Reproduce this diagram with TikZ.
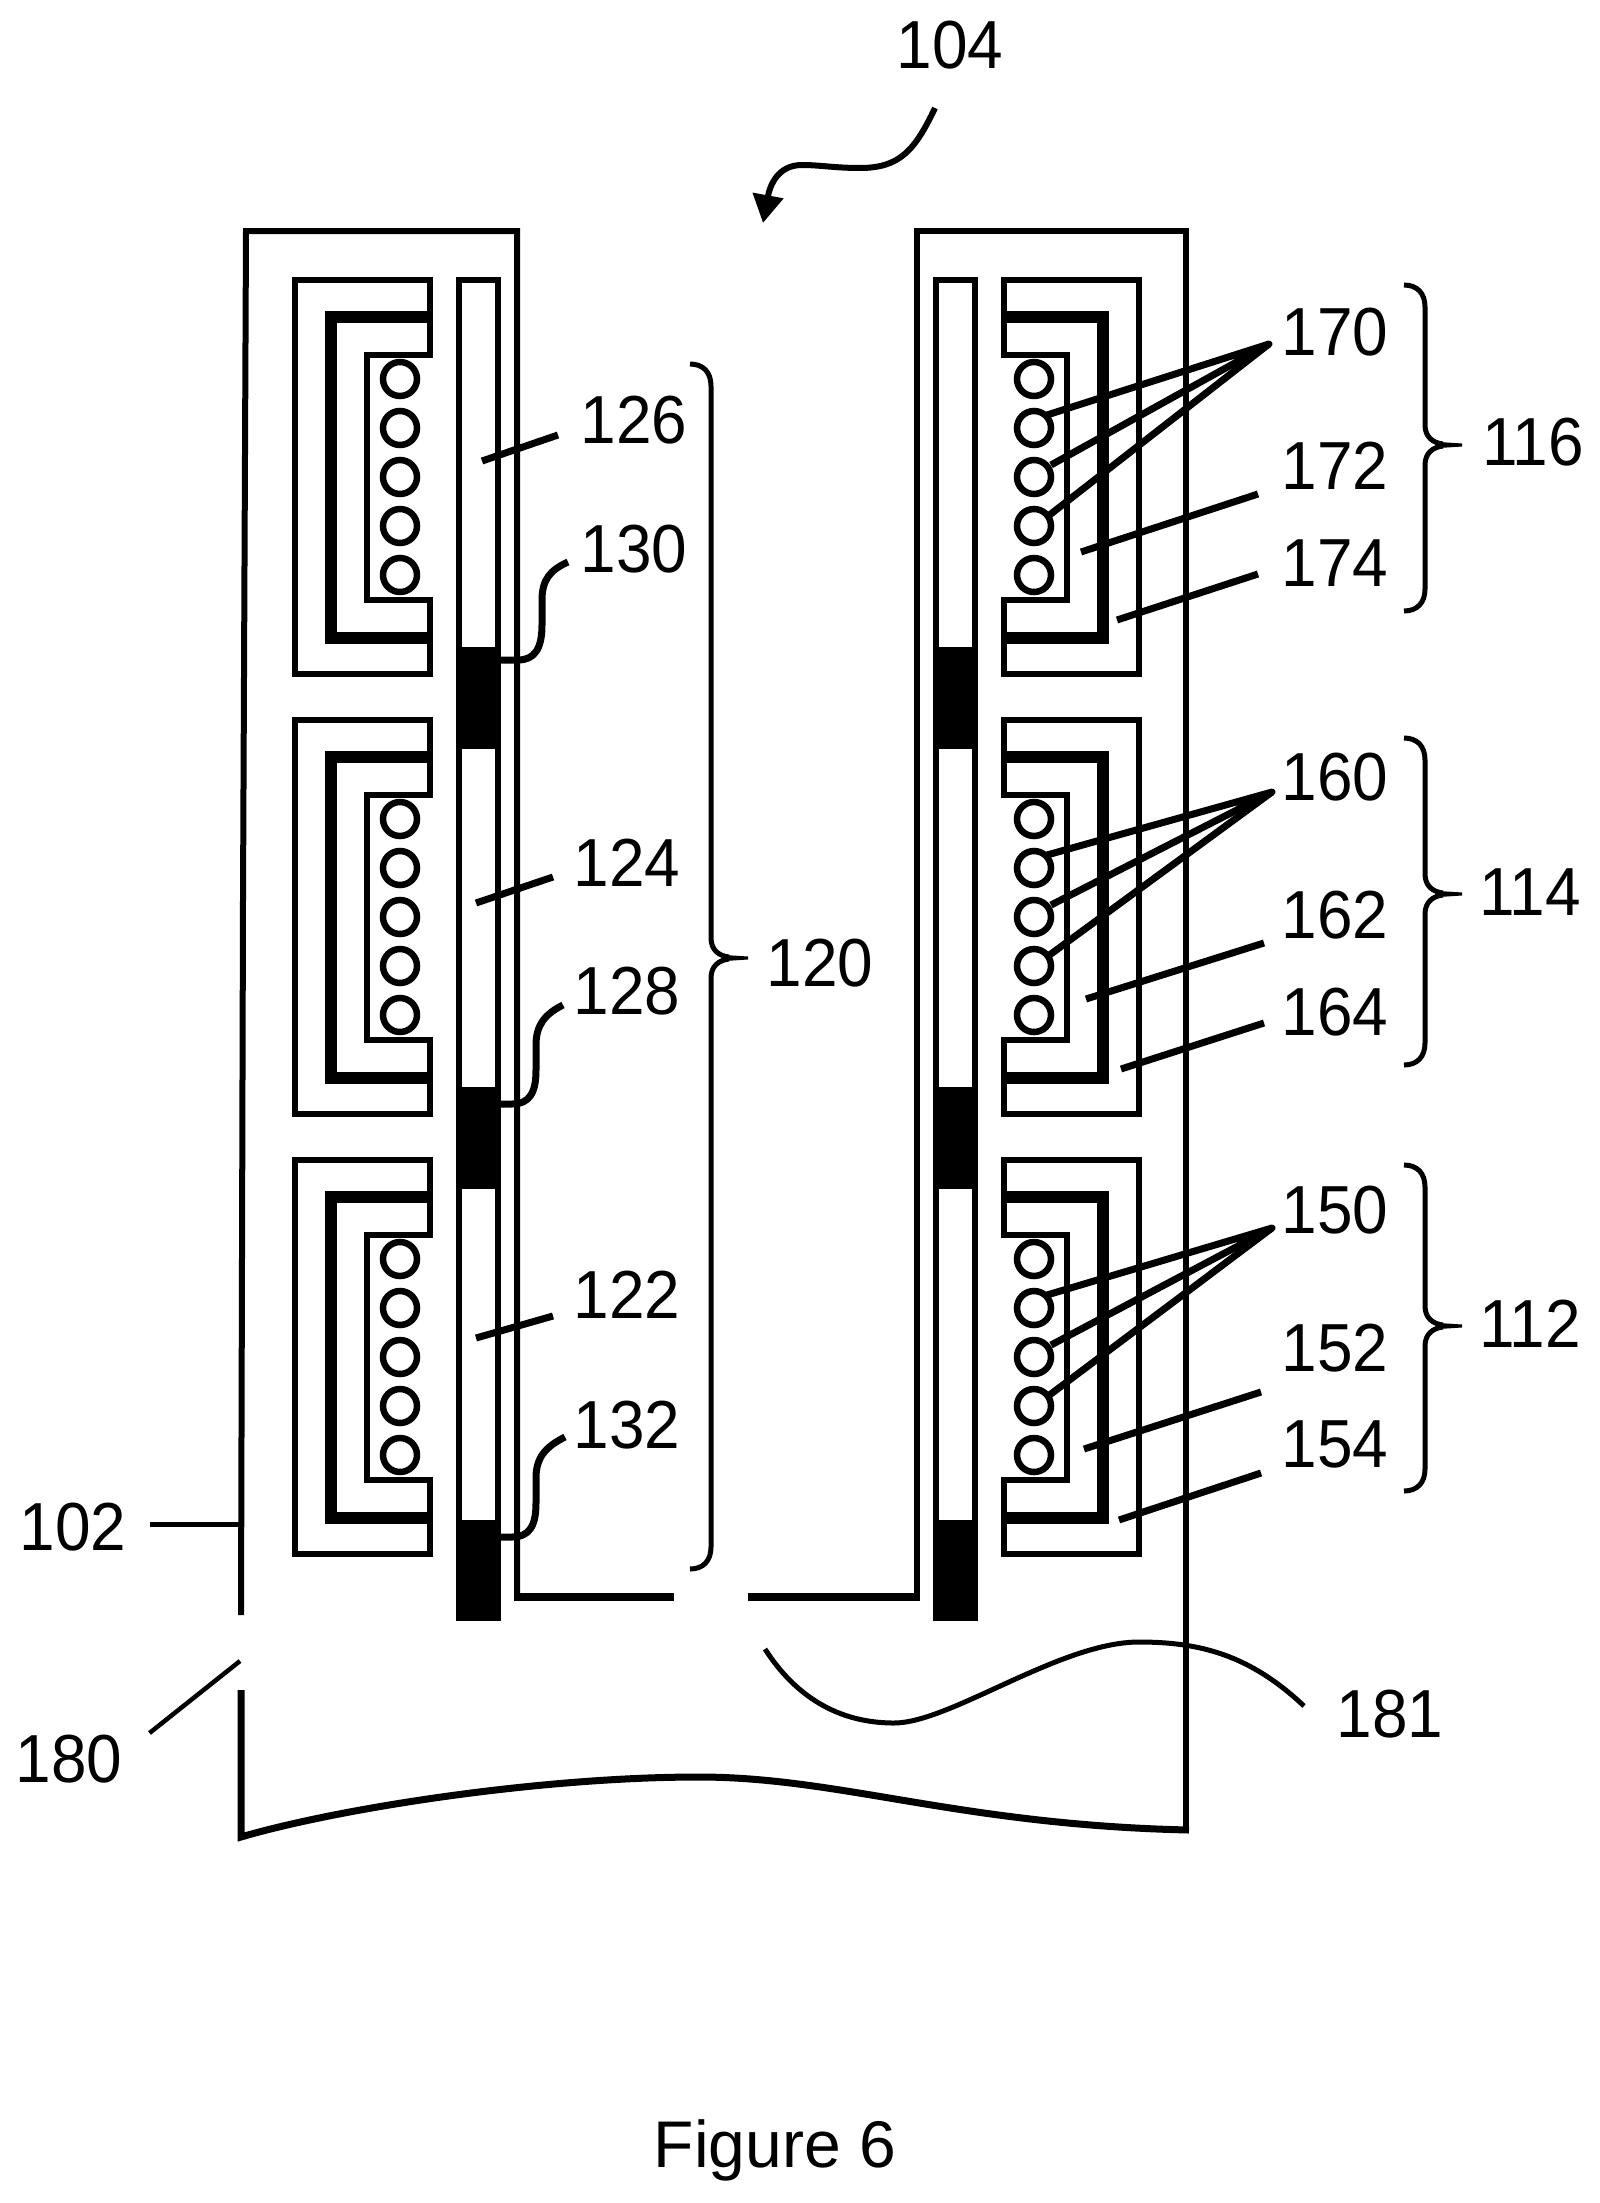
\documentclass[tikz,border=0pt]{standalone}
\usepackage{fontspec}
\setmainfont[FakeStretch=0.94]{Liberation Sans}
\newfontfamily\figfont{Liberation Sans}
\usetikzlibrary{arrows.meta}
\tikzset{
  num/.style={inner sep=0pt,text height=47pt,text depth=0pt,font=\fontsize{68}{68}\selectfont},
  wall/.style={line width=6.5pt,miter limit=10},
  leader/.style={line width=7pt,line join=round},
  thinlead/.style={line width=5pt},
  bracel/.style={line width=5pt},
  wire/.style={line width=6.5pt}
}
\newcommand{\coilmodule}{%
  \draw[wall] (430,280)--(295,280)--(295,674)--(430,674)--(430,600)--(367,600)--(367,355)--(430,355)--cycle;
  \draw[line width=12pt] (433,316.5)--(331,316.5)--(331,638)--(433,638);
  \foreach \cy in {379,428,477,526,575}{\draw[wire] (400,\cy) circle[radius=17];}
}
\newcommand{\mybrace}[6]{% x0, spine, tip, top, mid, bottom
  \draw[bracel] (#1,#4) .. controls (#2-8,#4) and (#2,#4+8) .. (#2,#4+22) -- (#2,#5-20)
    .. controls (#2,#5-8) and (#2+8,#5-2) .. (#2+18,#5-1);
  \draw[bracel] (#1,#6) .. controls (#2-8,#6) and (#2,#6-8) .. (#2,#6-22) -- (#2,#5+20)
    .. controls (#2,#5+8) and (#2+8,#5+2) .. (#2+18,#5+1);
  \fill (#2+14,#5-3)--(#3,#5-1.5)--(#3,#5+1.5)--(#2+14,#5+3)--cycle;
}
\begin{document}
\begin{tikzpicture}[x=1pt,y=-1pt]
\useasboundingbox (0,0) rectangle (1600,2203);
\fill[white] (0,0) rectangle (1600,2203);

% left housing wall
\draw[line width=6pt] (241,1615)--(243,900)--(246,231)--(517,231)--(517,1597);
\draw[line width=8pt] (514,1597)--(674,1597);
\draw[line width=8pt] (748,1597)--(920,1597);
% right housing wall
\draw[line width=6pt] (917,1599)--(917,231)--(1186,231)--(1186,1833);
% cut lower part
\draw[line width=7pt] (241,1690)--(241,1837)
  .. controls (340,1808) and (540,1777) .. (699,1777)
  .. controls (840,1777) and (960,1825) .. (1189,1830);

% coil modules
\foreach \d in {0,440,880}{
  \begin{scope}[yshift=-\d pt]
    \coilmodule
  \end{scope}
  \begin{scope}[yshift=-\d pt,xscale=-1,xshift=-1434pt]
    \coilmodule
  \end{scope}
}

% strips
\draw[wall] (459,280) rectangle (498,1600);
\draw[wall] (936,280) rectangle (975,1600);
\foreach \ya/\yb in {647/749,1087/1189,1520/1621}{
  \fill (456,\ya) rectangle (501,\yb);
  \fill (933,\ya) rectangle (978,\yb);
}

% labels
\node[num] (n104) at (950,45) {104};
\node[num] (n170) at (1335,332) {170};
\node[num] (n172) at (1335,466) {172};
\node[num] (n174) at (1335,563) {174};
\node[num] (n116) at (1533,442) {116};
\node[num] (n160) at (1335,777) {160};
\node[num] (n162) at (1335,915) {162};
\node[num] (n164) at (1335,1012) {164};
\node[num] (n114) at (1530,892) {114};
\node[num] (n150) at (1335,1210) {150};
\node[num] (n152) at (1335,1348) {152};
\node[num] (n154) at (1335,1444) {154};
\node[num] (n112) at (1530,1324) {112};
\node[num] (n126) at (634,420) {126};
\node[num] (n130) at (634,549) {130};
\node[num] (n124) at (627,863) {124};
\node[num] (n128) at (627,991) {128};
\node[num] (n122) at (627,1295) {122};
\node[num] (n132) at (627,1425) {132};
\node[num] (n120) at (820,963) {120};
\node[num] (n102) at (73,1527) {102};
\node[num] (n180) at (69,1759) {180};
\node[num] (n181) at (1390,1714) {181};
\node[inner sep=0pt,font=\figfont\fontsize{66}{66}\selectfont] (fig) at (775,2150) {Figure 6};

% arrow 104
\coordinate (a104s) at (935,108);
\coordinate (a104e) at (763,223);
\draw[line width=6pt,-{Triangle[length=28pt,width=30pt]}] (a104s)
  .. controls (915,150) and (900,168) .. (860,168)
  .. controls (835,168) and (820,165) .. (802,165)
  .. controls (778,165) and (770,185) .. (a104e);

% left straight leaders
\foreach \nm/\xa/\ya/\xb/\yb in {a/482/461/558/435,b/476/903/553/877,c/476/1338/553/1316}{
  \coordinate (ls\nm) at (\xa,\ya);
  \coordinate (le\nm) at (\xb,\yb);
  \draw[leader] (ls\nm)--(le\nm);
}
% left curved leaders
\coordinate (c130) at (568,562);
\coordinate (c128) at (563,1005);
\coordinate (c132) at (565,1437);
\draw[leader] (501,660) -- (518,660) .. controls (535,660) and (542,648) .. (542,625)
  -- (542,600) .. controls (542,580) and (550,570) .. (c130);
\draw[leader] (501,1104) -- (512,1104) .. controls (530,1104) and (536,1092) .. (536,1070)
  -- (536,1045) .. controls (536,1025) and (545,1014) .. (c128);
\draw[leader] (501,1537) -- (512,1537) .. controls (530,1537) and (536,1525) .. (536,1503)
  -- (536,1478) .. controls (536,1458) and (545,1447) .. (c132);

% right leaders
\foreach \nm/\tx/\ty/\d in {x/1269/344/0,y/1272/792/440,z/1272/1228/880}{
  \coordinate (tip\nm) at (\tx,\ty);
  \draw[leader] (1047,415+\d)--(tip\nm)--(1051,465+\d);
  \draw[leader] (1049.5,515+\d)--(tip\nm);
}
\foreach \nm/\xa/\ya/\xb/\yb in {
  p/1081/552/1258/494,q/1117/620/1258/574,
  r/1086/999/1264/943,s/1121/1069/1264/1023,
  t/1084/1449/1261/1392,u/1119/1520/1261/1473}{
  \coordinate (rs\nm) at (\xa,\ya);
  \coordinate (re\nm) at (\xb,\yb);
  \draw[leader] (rs\nm)--(re\nm);
}

% braces
\mybrace{1404}{1425}{1462}{285}{445}{611}
\mybrace{1404}{1425}{1462}{738}{894}{1065}
\mybrace{1404}{1425}{1462}{1165}{1326}{1491}
\mybrace{690}{711}{748}{364}{958}{1569}

% 102, 180, 181 leaders
\coordinate (l102) at (150,1524);
\coordinate (w102) at (241,1524);
\draw[thinlead] (l102)--(w102);
\coordinate (l180) at (149.5,1733);
\coordinate (w180) at (240,1661);
\draw[line width=4.5pt] (l180)--(w180);
\coordinate (l181) at (1304,1706);
\coordinate (w181) at (765,1649);
\draw[thinlead] (w181) .. controls (790,1688) and (830,1723) .. (894,1723)
  .. controls (950,1723) and (1060,1642) .. (1139,1642)
  .. controls (1200,1642) and (1250,1655) .. (l181);
\end{tikzpicture}
\end{document}
